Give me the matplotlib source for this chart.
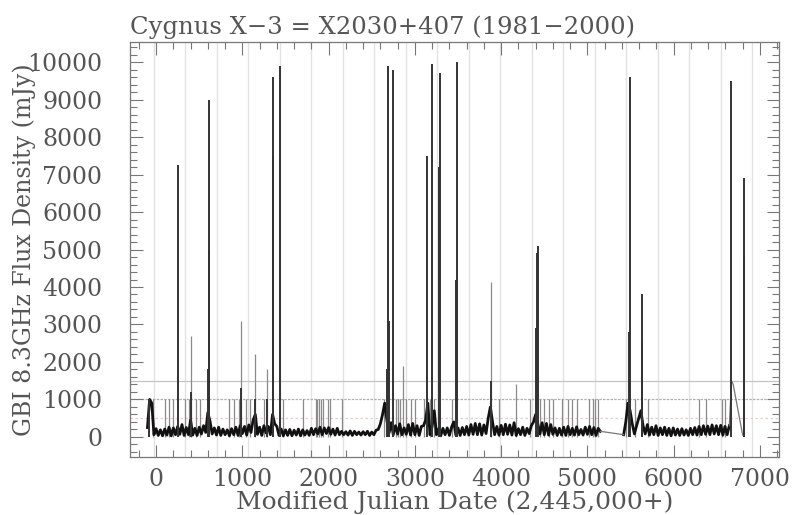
import numpy as np
import matplotlib.pyplot as plt

# baseline flux, segment A: MJD-2445000 = -100 .. 5150, every 25 days
base_a_start, base_a_step = -100, 25
base_a = [250, 1000, 900, 60, 220, 40, 190, 30, 210, 50,
          260, 30, 240, 60, 280, 70, 330, 40, 250, 60,
          450, 50, 230, 40, 260, 80, 300, 120, 650, 420,
          80, 240, 50, 260, 40, 210, 60, 190, 30, 220,
          60, 260, 40, 300, 90, 280, 50, 320, 120, 450,
          600, 70, 260, 40, 300, 110, 280, 60, 600, 350,
          280, 40, 210, 30, 190, 40, 200, 30, 180, 50,
          210, 30, 190, 50, 170, 40, 230, 60, 220, 80,
          260, 60, 240, 90, 250, 70, 210, 50, 230, 60,
          150, 60, 140, 50, 160, 40, 150, 60, 130, 50,
          140, 60, 150, 40, 130, 60, 180, 200, 350, 600,
          900, 450, 100, 380, 60, 300, 80, 350, 60, 240,
          70, 330, 50, 360, 60, 300, 40, 280, 300, 450,
          900, 60, 280, 700, 60, 220, 30, 230, 60, 240,
          40, 260, 400, 50, 240, 40, 250, 60, 280, 50,
          330, 70, 360, 60, 350, 50, 320, 90, 500, 800,
          400, 60, 280, 50, 310, 60, 340, 70, 320, 50,
          380, 40, 220, 60, 260, 40, 230, 90, 300, 400,
          600, 350, 80, 380, 60, 360, 50, 330, 70, 240,
          40, 230, 50, 260, 40, 280, 60, 230, 50, 270,
          60, 200, 50, 260, 70, 280, 60, 250, 40, 230, 150]

# segment B: 5420 .. 6645, every 25 days
base_b_start, base_b_step = 5420, 25
base_b = [60, 400, 900, 700, 350, 80, 300, 500, 700, 300,
          80, 330, 50, 260, 60, 300, 40, 240, 60, 260,
          40, 230, 30, 240, 50, 210, 40, 220, 50, 190,
          40, 230, 60, 250, 50, 280, 60, 300, 70, 290,
          60, 320, 80, 300, 60, 310, 50, 280, 60, 300]

# gap and tail (sparse points)
gap_days = [5150, 5420]
gap_flux = [150, 60]
tail_days = [6645, 6670, 6690, 6800]
tail_flux = [300, 1500, 1400, 50]

# strong flares (dark)
flare_days = [-80, 255, 405, 600, 614, 614, 985, 1147, 1290, 1350, 1356, 1437,
              2680, 2688, 2700, 2746, 3140, 3198, 3285, 3290, 3480, 3488, 3882,
              4400, 4420, 4427, 5480, 5493, 5630, 5635, 6663, 6810, 6814]
flare_peak = [1000, 7250, 1200, 1800, 5000, 9000, 1300, 1000, 1000, 7500, 9600, 9900,
              1800, 9900, 3100, 9800, 7500, 9950, 7200, 9700, 4200, 10000, 1500,
              2900, 4900, 5100, 2800, 9600, 2500, 3800, 9500, 4800, 6900]

# weaker spikes (grey)
spike_days = [405, 985, 1147, 1290, 2862, 3882, 4171, -40, 100, 150, 200, 330,
              380, 460, 510, 850, 900, 960, 1040, 1090, 1250, 1470, 1700, 1850,
              1870, 1890, 1910, 1930, 1990, 2020, 2150, 2640, 2780, 2800, 2830,
              2900, 2950, 3000, 3100, 3180, 3220, 3430, 3980, 4330, 4450, 4500,
              4550, 4600, 4700, 4780, 4820, 4880, 5020, 5070, 5090, 5120, 5450,
              5550, 5700, 6290, 6380, 6560, 6600]
spike_peak = [2700, 3100, 2200, 1800, 1900, 4130, 1400, 1000, 1000, 1000, 1000, 1000,
              1000, 1000, 1000, 1000, 1000, 1000, 1000, 1000, 1000, 1000, 1000, 1000,
              1000, 1000, 1000, 1000, 1000, 1000, 1000, 1000, 1000, 1000, 1000,
              1000, 1000, 1000, 1000, 1000, 1000, 1000, 1000, 1000, 1000, 1000,
              1000, 1000, 1000, 1000, 1000, 1000, 1000, 1000, 1000, 1000, 1000,
              1000, 1000, 1000, 1000, 1000, 1000]

# Jan 1 of 1982..2001 in MJD-2445000
year_lines = [-29.5, 335.5, 700.5, 1066.5, 1431.5, 1796.5, 2161.5, 2527.5, 2892.5,
              3257.5, 3622.5, 3988.5, 4353.5, 4718.5, 5083.5, 5449.5, 5814.5,
              6179.5, 6544.5, 6910.5]

txt = '#555555'
plt.rcParams['font.family'] = 'DejaVu Serif'

fig = plt.figure(figsize=(7.94, 5.15), dpi=100)
ax = fig.add_axes([0.164, 0.113, 0.817, 0.805])

for d in year_lines:
    ax.axvline(d, color='#e2e2e2', lw=1.0, zorder=0)
ax.axhline(1500, color='#c4c4c4', lw=0.9, zorder=0)
ax.axhline(1000, color='#b0b0b0', lw=0.9, ls=(0, (2, 1)), zorder=0)
ax.axhline(500, color='#ecc8c8', lw=0.9, ls=(0, (2, 2)), zorder=0)

ax.vlines(spike_days, 0, spike_peak, color='#8a8a8a', lw=0.9, zorder=1)

days_a = base_a_start + base_a_step * np.arange(len(base_a))
days_b = base_b_start + base_b_step * np.arange(len(base_b))
ax.plot(days_a, base_a, color='#111111', lw=2.0, zorder=2)
ax.plot(days_b, base_b, color='#111111', lw=2.0, zorder=2)
ax.plot(gap_days, gap_flux, color='#777777', lw=0.9, zorder=2)
ax.plot(tail_days, tail_flux, color='#777777', lw=0.9, zorder=2)

ax.vlines(flare_days, 0, flare_peak, color='#333333', lw=1.4, zorder=3)

ax.set_xlim(-300, 7220)
ax.set_ylim(-530, 10530)
ax.set_xticks(np.arange(0, 7001, 1000))
ax.set_xticks(np.arange(-200, 7201, 200), minor=True)
ax.set_yticks(np.arange(0, 10001, 1000))
ax.set_yticks(np.arange(-400, 10501, 200), minor=True)
ax.tick_params(which='both', direction='in', top=True, right=True,
               colors='#777777', labelcolor=txt, labelsize=17, width=0.8)
ax.tick_params(which='major', length=9)
ax.tick_params(axis='y', which='major', pad=20)
ax.tick_params(axis='x', which='major', pad=8)
ax.tick_params(which='minor', length=5)
for s in ax.spines.values():
    s.set_color('#777777')
    s.set_linewidth(0.9)

ax.set_title('Cygnus X\u22123 = X2030+407 (1981\u22122000)', color=txt,
             fontsize=17.5, pad=6, loc='left')
ax.set_xlabel('Modified Julian Date (2,445,000+)', color=txt, fontsize=18, labelpad=0)
ax.set_ylabel('GBI 8.3GHz Flux Density (mJy)', color=txt, fontsize=17, labelpad=-6)

fig.savefig('out.png', dpi=100, facecolor='white')
